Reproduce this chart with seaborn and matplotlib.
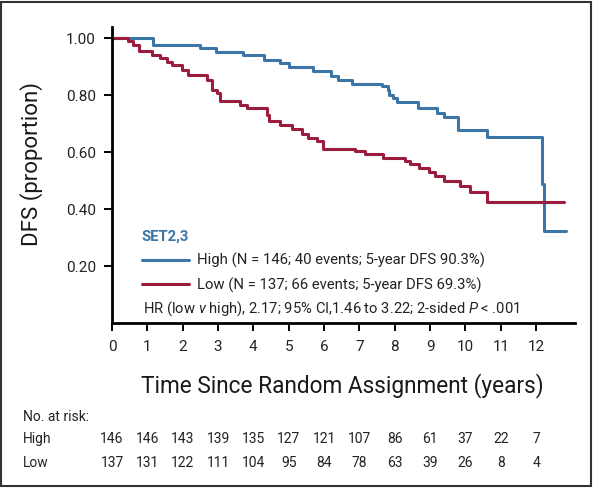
import matplotlib
matplotlib.use("Agg")
import matplotlib.pyplot as plt
import matplotlib.transforms as mtransforms
from matplotlib.patches import Rectangle
import pandas as pd
import seaborn as sns

# Kaplan-Meier steps (time in years, DFS proportion after the step)
high_time = [0, 1.15, 2.5, 2.95, 3.7, 4.3, 4.75, 5.0, 5.7, 6.2, 6.4, 6.8, 7.65, 7.8, 7.85,
             7.96, 8.07, 8.65, 9.2, 9.4, 9.8, 10.6, 12.18, 12.22, 12.85]
high_surv = [1.0, 0.978, 0.966, 0.952, 0.94, 0.925, 0.913, 0.898, 0.884, 0.868, 0.855, 0.84,
             0.832, 0.82, 0.80, 0.79, 0.776, 0.754, 0.738, 0.724, 0.677, 0.653, 0.488, 0.325, 0.325]
low_time = [0, 0.45, 0.6, 0.75, 1.13, 1.36, 1.56, 1.7, 1.98, 2.16, 2.68, 2.83, 2.97, 3.06,
            3.63, 3.82, 4.38, 4.45, 4.76, 5.1, 5.38, 5.55, 5.8, 5.98, 6.88, 7.17, 7.68, 8.3,
            8.44, 8.7, 8.98, 9.15, 9.38, 9.86, 10.14, 10.62, 12.8]
low_surv = [1.0, 0.99, 0.978, 0.954, 0.943, 0.931, 0.917, 0.908, 0.89, 0.87, 0.855, 0.82,
            0.808, 0.779, 0.767, 0.755, 0.732, 0.711, 0.697, 0.68, 0.664, 0.65, 0.641, 0.613,
            0.604, 0.595, 0.58, 0.568, 0.557, 0.545, 0.531, 0.516, 0.5, 0.481, 0.461, 0.426, 0.426]

groups = ["High", "Low"]
group_labels = ["High (N = 146; 40 events; 5-year DFS 90.3%)",
                "Low (N = 137; 66 events; 5-year DFS 69.3%)"]
colors = ["#3b76a7", "#9b1c3c"]

risk_times = list(range(13))
risk_high = [146, 146, 143, 139, 135, 127, 121, 107, 86, 61, 37, 22, 7]
risk_low = [137, 131, 122, 111, 104, 95, 84, 78, 63, 39, 26, 8, 4]

df = pd.concat([
    pd.DataFrame({"time": high_time, "surv": high_surv, "group": "High"}),
    pd.DataFrame({"time": low_time, "surv": low_surv, "group": "Low"}),
], ignore_index=True)

sns.set_style("ticks")
plt.rcParams["font.family"] = ["Roboto", "DejaVu Sans"]
plt.rcParams["mathtext.fontset"] = "custom"
plt.rcParams["mathtext.rm"] = "Roboto"
plt.rcParams["mathtext.it"] = "Roboto:italic"

fig = plt.figure(figsize=(5.93, 4.88), dpi=100)
ax = fig.add_axes([112 / 593, 1 - 323 / 488, 463 / 593, 296 / 488])

sns.lineplot(data=df, x="time", y="surv", hue="group", hue_order=groups, palette=colors,
             drawstyle="steps-post", estimator=None, legend=False, linewidth=2.2, ax=ax)

ax.set_xlim(0, 13.1)
ax.set_ylim(0, 1.04)
ax.set_xticks(risk_times)
ax.set_yticks([0.2, 0.4, 0.6, 0.8, 1.0])
ax.set_yticklabels(["0.20", "0.40", "0.60", "0.80", "1.00"])
for s in ["top", "right"]:
    ax.spines[s].set_visible(False)
for s in ["left", "bottom"]:
    ax.spines[s].set_linewidth(2)
    ax.spines[s].set_color("black")
ax.tick_params(axis="both", direction="out", length=5.5, width=1.4, color="black",
               labelsize=11, labelcolor="#222222", bottom=True, left=True)
ax.tick_params(axis="y", pad=6)
ax.tick_params(axis="x", pad=7)

ax.set_xlabel("Time Since Random Assignment (years)", fontsize=16.3, color="#1a1a1a")
ax.set_ylabel("DFS (proportion)", fontsize=16, color="#1a1a1a")
ax.xaxis.set_label_coords(0.497, -0.17)
ax.yaxis.set_label_coords(-0.15, 0.537)

leg = ax.legend(ax.get_lines()[:2], group_labels, loc="upper left",
                bbox_to_anchor=(0.064, 0.315), frameon=False, fontsize=10.7,
                handlelength=3.2, handletextpad=0.55, labelspacing=0.62,
                borderpad=0, borderaxespad=0, title="SET2,3", alignment="left",
                title_fontproperties={"weight": "bold", "size": 10.7})
leg.get_title().set_color(colors[0])
for t in leg.get_texts():
    t.set_color("#222222")

ax.text(0.067, 0.05, r"HR (low $v$ high), 2.17; 95% CI,1.46 to 3.22; 2-sided $P$ < .001",
        transform=ax.transAxes, fontsize=10.6, color="#222222", va="center", ha="left")

# number at risk table
trans = mtransforms.blended_transform_factory(ax.transData, fig.transFigure)
fig.text(23 / 593, 1 - 417 / 488, "No. at risk:", fontsize=10, color="#222222", va="center")
fig.text(23 / 593, 1 - 439 / 488, "High", fontsize=10, color="#222222", va="center")
fig.text(23 / 593, 1 - 463 / 488, "Low", fontsize=10, color="#222222", va="center")
for t, h, l in zip(risk_times, risk_high, risk_low):
    ax.text(t, 1 - 439 / 488, str(h), transform=trans, fontsize=10, color="#222222",
            ha="center", va="center")
    ax.text(t, 1 - 463 / 488, str(l), transform=trans, fontsize=10, color="#222222",
            ha="center", va="center")

fig.patches.append(Rectangle((0.002, 0.005), 0.995, 0.99, transform=fig.transFigure,
                             fill=False, edgecolor="#333333", linewidth=1.5))

fig.savefig("out.png", dpi=100)
